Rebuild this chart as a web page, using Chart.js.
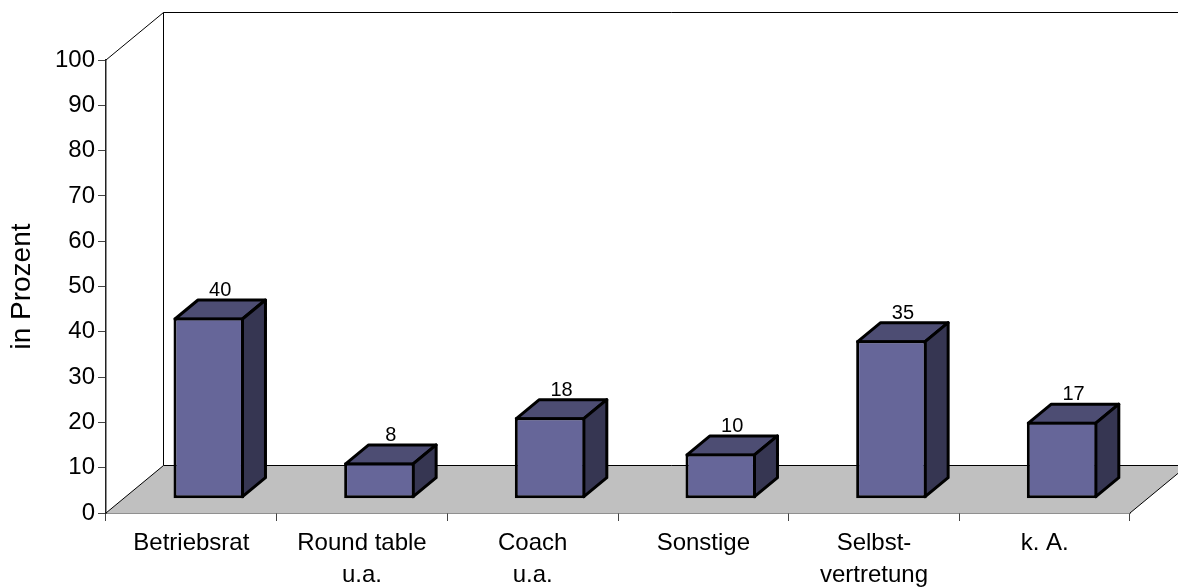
<!DOCTYPE html>
<html>
<head>
<meta charset="utf-8">
<style>
  html, body { margin: 0; padding: 0; background: #fff; }
  canvas { display: block; }
</style>
<script src="https://cdn.jsdelivr.net/npm/chart.js@4"></script>
</head>
<body>
<canvas id="myChart" width="1178" height="588"></canvas>
<script>
const categories = ["Betriebsrat", ["Round table", "u.a."], ["Coach", "u.a."], "Sonstige", ["Selbst-", "vertretung"], "k. A."];
const values = [40, 8, 18, 10, 35, 17];
const tickValues = [0, 10, 20, 30, 40, 50, 60, 70, 80, 90, 100];

const fontName = '"Liberation Sans", Arial, sans-serif';

// room projection: how far the back wall sits behind the axes
const wallDX = 57.5;
const wallDY = -47.5;
// bars stand part way into the floor and have their own depth
const barDX = 17.4;
const barDY = -14.3;
const sideDX = 23;
const sideDY = -19;

const room3d = {
  id: "room3d",
  beforeDatasetsDraw(chart) {
    const { ctx, chartArea: a } = chart;
    ctx.save();
    ctx.fillStyle = "#c0c0c0";
    ctx.beginPath();
    ctx.moveTo(a.left, a.bottom);
    ctx.lineTo(a.left + wallDX, a.bottom + wallDY);
    ctx.lineTo(a.right + wallDX, a.bottom + wallDY);
    ctx.lineTo(a.right, a.bottom);
    ctx.closePath();
    ctx.fill();

    ctx.strokeStyle = "#000";
    ctx.lineWidth = 1;
    ctx.beginPath();
    // floor edges
    ctx.moveTo(a.left, a.bottom);
    ctx.lineTo(a.left + wallDX, a.bottom + wallDY);
    ctx.lineTo(a.right + wallDX, a.bottom + wallDY);
    ctx.moveTo(a.right, a.bottom);
    ctx.lineTo(a.right + wallDX, a.bottom + wallDY);
    // side wall and back wall
    ctx.moveTo(a.left, a.top);
    ctx.lineTo(a.left + wallDX, a.top + wallDY);
    ctx.lineTo(a.left + wallDX, a.bottom + wallDY);
    ctx.moveTo(a.left + wallDX, a.top + wallDY);
    ctx.lineTo(a.right + wallDX, a.top + wallDY);
    ctx.stroke();
    ctx.restore();
  },
  beforeDatasetDraw(chart) {
    const { ctx } = chart;
    ctx.save();
    ctx.translate(barDX, barDY);
    // top and side faces go under the front face
    chart.getDatasetMeta(0).data.forEach((bar) => {
      const half = bar.width / 2;
      const left = bar.x - half + 1.5;
      const right = bar.x + half - 1.5;
      const top = bar.y + 1.5;
      const base = bar.base - 1.5;
      ctx.lineWidth = 3;
      ctx.lineJoin = "round";
      ctx.strokeStyle = "#000";

      ctx.fillStyle = "#4d4d73";
      ctx.beginPath();
      ctx.moveTo(left, top);
      ctx.lineTo(left + sideDX, top + sideDY);
      ctx.lineTo(right + sideDX, top + sideDY);
      ctx.lineTo(right, top);
      ctx.closePath();
      ctx.fill();
      ctx.stroke();

      ctx.fillStyle = "#363652";
      ctx.beginPath();
      ctx.moveTo(right, top);
      ctx.lineTo(right + sideDX, top + sideDY);
      ctx.lineTo(right + sideDX, base + sideDY);
      ctx.lineTo(right, base);
      ctx.closePath();
      ctx.fill();
      ctx.stroke();
    });
  },
  afterDatasetDraw(chart) {
    const { ctx } = chart;
    // value labels above the back edge of each bar
    ctx.fillStyle = "#000";
    ctx.font = "20px " + fontName;
    ctx.textAlign = "center";
    ctx.textBaseline = "alphabetic";
    chart.getDatasetMeta(0).data.forEach((bar, i) => {
      ctx.fillText(String(values[i]), bar.x + sideDX / 2, bar.y + sideDY - 2.5);
    });
    ctx.restore();
  },
};

new Chart(document.getElementById("myChart"), {
  type: "bar",
  data: {
    labels: categories,
    datasets: [
      {
        data: values,
        backgroundColor: "#666699",
        borderColor: "#000",
        borderWidth: 3,
        borderSkipped: false,
        barPercentage: 1,
        categoryPercentage: 0.413,
      },
    ],
  },
  options: {
    responsive: false,
    animation: false,
    layout: { padding: { top: 60, right: 48, left: 0, bottom: 0 } },
    plugins: { legend: { display: false }, tooltip: { enabled: false } },
    scales: {
      x: {
        afterFit: (scale) => { scale.height = 75; },
        border: { color: "#222", width: 1.5 },
        grid: { drawOnChartArea: false, drawTicks: true, tickLength: 8, color: "#444" },
        ticks: {
          color: "#000",
          font: { family: fontName, size: 24, lineHeight: 1.32 },
          maxRotation: 0,
          autoSkip: false,
          padding: 6.5,
        },
      },
      y: {
        min: 0,
        max: 100,
        afterFit: (scale) => { scale.width = 106; },
        afterBuildTicks: (scale) => { scale.ticks = tickValues.map((v) => ({ value: v })); },
        border: { color: "#222", width: 1.5 },
        grid: { drawOnChartArea: false, drawTicks: true, tickLength: 8, color: "#444" },
        ticks: {
          color: "#000",
          font: { family: fontName, size: 24 },
          padding: 3,
        },
        title: {
          display: true,
          text: "in Prozent",
          color: "#000",
          font: { family: fontName, size: 28 },
          padding: { top: 5, bottom: 0 },
        },
      },
    },
  },
  plugins: [room3d],
});
</script>
</body>
</html>
